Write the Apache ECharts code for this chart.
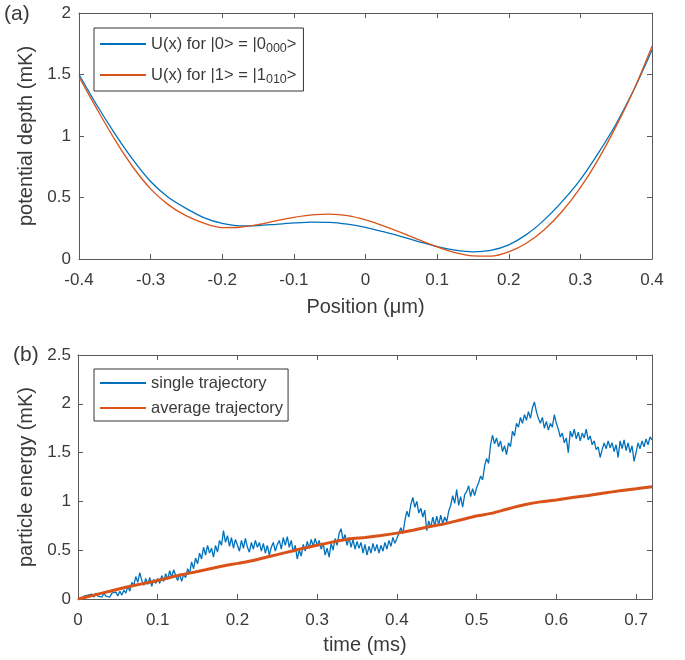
<!DOCTYPE html>
<html><head><meta charset="utf-8">
<script src="https://cdn.jsdelivr.net/npm/echarts@6/dist/echarts.min.js"></script>
<style>html,body{margin:0;padding:0;background:#fff}#c{width:685px;height:660px}</style>
</head><body><div id="c"></div>
<script>
// ---------- Panel (a) data ----------
const positions = [-0.4,-0.375,-0.35,-0.325,-0.3,-0.275,-0.25,-0.225,-0.2,-0.175,-0.15,-0.125,-0.1,-0.075,-0.05,-0.025,0,
  0.025,0.05,0.075,0.1,0.125,0.15,0.175,0.2,0.225,0.25,0.275,0.3,0.325,0.35,0.375,0.4];
const potential0 = [1.50,1.25,1.02,0.81,0.63,0.50,0.41,0.335,0.29,0.27,0.272,0.282,0.293,0.300,0.298,0.283,0.258,
  0.222,0.182,0.140,0.100,0.072,0.058,0.070,0.115,0.200,0.320,0.470,0.645,0.860,1.100,1.380,1.70];
const potential1 = [1.48,1.22,0.97,0.75,0.57,0.44,0.35,0.29,0.255,0.258,0.28,0.31,0.338,0.358,0.365,0.352,0.318,
  0.27,0.215,0.155,0.098,0.052,0.026,0.024,0.058,0.13,0.24,0.39,0.58,0.81,1.08,1.38,1.73];
const xTicksA = {min:-0.4, max:0.4, interval:0.1};
const yTicksA = {min:0, max:2, interval:0.5};

// ---------- Panel (b) data ----------
const timeEnd = 0.72;
const singleTraj = [
 0.00,0.02,0.00,0.03,0.01,0.04,0.02,0.05,0.02,0.06,0.03,0.05,0.02,0.06,0.03,0.05,0.02,0.06,0.04,0.07,0.03,0.08,0.04,0.09,0.06,
 0.13,0.08,0.17,0.14,0.23,0.17,0.27,0.19,0.14,0.21,0.15,0.22,0.13,0.20,0.16,0.21,
 0.16,0.24,0.18,0.26,0.20,0.29,0.22,0.30,0.24,0.19,0.26,0.18,0.25,0.22,0.31,0.26,0.38,0.31,0.42,0.36,
 0.47,0.41,0.53,0.45,0.55,0.47,0.52,0.43,0.55,0.48,0.60,0.55,0.70,0.58,0.65,0.54,0.63,0.52,0.61,0.55,
 0.49,0.60,0.52,0.62,0.53,0.48,0.58,0.51,0.60,0.53,0.58,0.49,0.57,0.47,0.55,0.45,0.53,0.58,0.49,0.56,
 0.60,0.51,0.63,0.55,0.64,0.53,0.60,0.48,0.55,0.41,0.50,0.44,0.56,0.49,0.59,0.52,0.61,0.54,0.62,0.55,
 0.60,0.51,0.57,0.45,0.52,0.43,0.57,0.50,0.62,0.55,0.67,0.72,0.60,0.66,0.55,0.63,0.53,0.61,0.51,0.59,
 0.52,0.58,0.47,0.56,0.45,0.54,0.47,0.57,0.49,0.56,0.47,0.55,0.49,0.58,0.51,0.60,0.54,0.63,0.57,0.62,
 0.64,0.73,0.67,0.80,0.90,0.84,0.97,1.04,0.94,1.00,0.88,0.93,0.84,0.91,0.70,0.80,0.73,0.84,0.75,0.85,
 0.76,0.86,0.77,0.84,0.79,0.90,0.96,1.06,0.98,1.12,0.96,1.05,0.94,1.07,1.10,1.16,1.05,1.13,1.06,1.14,
 1.19,1.26,1.22,1.36,1.44,1.39,1.58,1.68,1.59,1.65,1.56,1.62,1.51,1.57,1.48,1.60,1.56,1.72,1.67,1.80,
 1.76,1.86,1.80,1.89,1.83,1.92,1.85,1.96,2.02,1.92,1.85,1.80,1.86,1.75,1.82,1.73,1.80,1.76,1.89,1.80,
 1.74,1.66,1.70,1.60,1.65,1.50,1.72,1.66,1.74,1.64,1.71,1.62,1.70,1.65,1.74,1.63,1.67,1.58,1.62,1.53,
 1.56,1.45,1.53,1.60,1.54,1.62,1.55,1.60,1.51,1.58,1.45,1.62,1.54,1.63,1.52,1.60,1.50,1.57,1.41,1.50,
 1.60,1.54,1.62,1.56,1.64,1.58,1.66,1.63];
const avgTime = [0,0.02,0.04,0.06,0.08,0.1,0.12,0.14,0.16,0.18,0.2,0.22,0.24,0.26,0.28,0.3,0.32,0.34,0.36,0.38,
  0.4,0.42,0.44,0.46,0.48,0.5,0.52,0.54,0.56,0.58,0.6,0.62,0.64,0.66,0.68,0.7,0.72];
const avgTraj = [0,0.04,0.08,0.12,0.155,0.19,0.23,0.265,0.30,0.335,0.365,0.395,0.435,0.475,0.515,0.55,0.585,0.615,0.63,0.65,
  0.675,0.705,0.74,0.77,0.81,0.85,0.88,0.925,0.965,0.995,1.015,1.04,1.06,1.085,1.11,1.13,1.15];
const xTicksB = {min:0, max:0.72, interval:0.1};
const yTicksB = {min:0, max:2.5, interval:0.5};

// ---------- build ----------
const FONT = "'Liberation Sans', Arial, sans-serif";
const TXT = '#3a3a3a';
const AX = '#5a5a5a';
const BLUE = '#0072BD', RED = '#D95319';

const pair = (xs, ys) => ys.map((v, i) => [xs[i], v]);
const step = timeEnd / (singleTraj.length - 1);
const singleData = singleTraj.map((v, i) => [i * step, v]);

function axisCommon(t, showLabel, pos, gridIndex, margin){
  const whole = Math.abs(t.max / t.interval - Math.round(t.max / t.interval)) < 1e-6;
  return {
    type:'value', gridIndex, position:pos, min:t.min, max:t.max, interval:t.interval,
    axisLine:{show:true, onZero:false, lineStyle:{color:AX, width:1}},
    axisTick:{show:true, inside:true, length:5, lineStyle:{color:AX}},
    splitLine:{show:false},
    axisLabel:{show:showLabel, color:TXT, fontSize:17, fontFamily:FONT, margin:margin, showMaxLabel: whole}
  };
}

const noSymbol = {color:'rgba(0,0,0,0)', borderColor:'rgba(0,0,0,0)', borderWidth:0, opacity:0};

const option = {
  animation:false,
  backgroundColor:'#fff',
  grid:[
    {left:79, top:13, width:573, height:246},
    {left:78, top:355, width:574, height:244}
  ],
  xAxis:[
    Object.assign(axisCommon(xTicksA, true, 'bottom', 0, 13), {name:'Position (\u03bcm)', nameLocation:'middle', nameGap:38,
      nameTextStyle:{color:TXT, fontSize:20, fontFamily:FONT}}),
    axisCommon(xTicksA, false, 'top', 0, 8),
    Object.assign(axisCommon(xTicksB, true, 'bottom', 1, 13), {name:'time (ms)', nameLocation:'middle', nameGap:36,
      nameTextStyle:{color:TXT, fontSize:20, fontFamily:FONT}}),
    axisCommon(xTicksB, false, 'top', 1, 8)
  ],
  yAxis:[
    Object.assign(axisCommon(yTicksA, true, 'left', 0, 8), {name:'potential depth (mK)', nameLocation:'middle', nameGap:38,
      nameTextStyle:{color:TXT, fontSize:20, fontFamily:FONT}}),
    axisCommon(yTicksA, false, 'right', 0, 8),
    Object.assign(axisCommon(yTicksB, true, 'left', 1, 7), {name:'particle energy (mK)', nameLocation:'middle', nameGap:38,
      nameTextStyle:{color:TXT, fontSize:20, fontFamily:FONT}}),
    axisCommon(yTicksB, false, 'right', 1, 8)
  ],
  legend:[
    {
      data:['U0','U1'], orient:'vertical', left:94, top:28, itemWidth:46, itemHeight:14, itemGap:9,
      padding:[5,7,5,5], borderColor:'#333', borderWidth:1, backgroundColor:'#fff',
      itemStyle:noSymbol,
      formatter: n => n === 'U0' ? 'U(x) for |0> = |0{sub|000}>' : 'U(x) for |1> = |1{sub|010}>',
      textStyle:{color:TXT, fontSize:16.5, fontFamily:FONT, lineHeight:22,
        rich:{sub:{fontSize:12.5, fontFamily:FONT, color:TXT, verticalAlign:'bottom', lineHeight:12}}}
    },
    {
      data:['single trajectory','average trajectory'], orient:'vertical', left:94, top:369, itemWidth:46, itemHeight:14, itemGap:7,
      padding:[5,5,4,5], borderColor:'#333', borderWidth:1, backgroundColor:'#fff',
      itemStyle:noSymbol,
      textStyle:{color:TXT, fontSize:16.5, fontFamily:FONT, lineHeight:18}
    }
  ],
  graphic:[
    {type:'text', left:4, top:4, style:{text:'(a)', fontSize:21, fontFamily:FONT, fill:TXT}},
    {type:'text', left:13, top:345, style:{text:'(b)', fontSize:21, fontFamily:FONT, fill:TXT}}
  ],
  series:[
    {name:'U0', type:'line', xAxisIndex:0, yAxisIndex:0, data:pair(positions, potential0), smooth:0.3,
      symbol:'none', lineStyle:{color:BLUE, width:1.3}, itemStyle:{color:BLUE}},
    {name:'U1', type:'line', xAxisIndex:0, yAxisIndex:0, data:pair(positions, potential1), smooth:0.3,
      symbol:'none', lineStyle:{color:RED, width:1.3}, itemStyle:{color:RED}},
    {name:'single trajectory', type:'line', xAxisIndex:2, yAxisIndex:2, data:singleData,
      symbol:'none', lineStyle:{color:BLUE, width:1.3}, itemStyle:{color:BLUE}},
    {name:'average trajectory', type:'line', xAxisIndex:2, yAxisIndex:2, data:pair(avgTime, avgTraj), smooth:0.2,
      symbol:'none', lineStyle:{color:RED, width:3}, itemStyle:{color:RED}}
  ]
};
const chart = echarts.init(document.getElementById('c'), null, {renderer:'canvas'});
chart.setOption(option);
</script></body></html>
